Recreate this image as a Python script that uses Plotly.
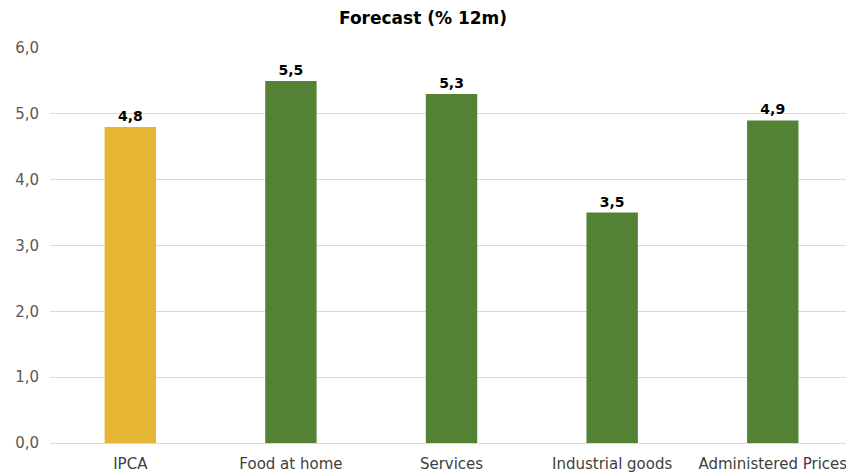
import plotly.graph_objects as go

categories = ["IPCA", "Food at home", "Services", "Industrial goods", "Administered Prices"]
values = [4.8, 5.5, 5.3, 3.5, 4.9]
colors = ["#E6B533", "#548235", "#548235", "#548235", "#548235"]
y_ticks = [0, 1, 2, 3, 4, 5, 6]

FONT = "DejaVu Sans"

fig = go.Figure(go.Bar(
    x=categories, y=values,
    marker=dict(color=colors, line=dict(width=0)),
    width=0.32,
    texttemplate="%{y:.1f}", textposition="outside",
    textfont=dict(family=FONT, size=14, color="#000000", weight="bold"),
    cliponaxis=False,
))

fig.update_layout(
    width=846, height=473,
    margin=dict(l=50, r=0, t=48, b=30),
    paper_bgcolor="white", plot_bgcolor="white",
    separators=",.",
    title=dict(text="<b>Forecast (% 12m)</b>", x=0.5, xanchor="center", y=0.962, yanchor="middle",
               font=dict(family=FONT, size=17, color="#000000")),
    font=dict(family=FONT, size=15, color="#595959"),
    showlegend=False,
    xaxis=dict(range=[-0.5, 4.456], showgrid=False, showline=False, ticks="",
               ticklabelstandoff=10,
               tickfont=dict(family=FONT, size=15, color="#404040")),
    yaxis=dict(range=[0, 6], tickvals=y_ticks, tickformat=".1f", showgrid=True,
               gridcolor="#D9D9D9", gridwidth=1, zeroline=True, zerolinecolor="#D9D9D9",
               zerolinewidth=1, showline=False, ticks="", ticklabelstandoff=10,
               tickfont=dict(family=FONT, size=15, color="#595959")),
)

fig.write_html("out.html")
